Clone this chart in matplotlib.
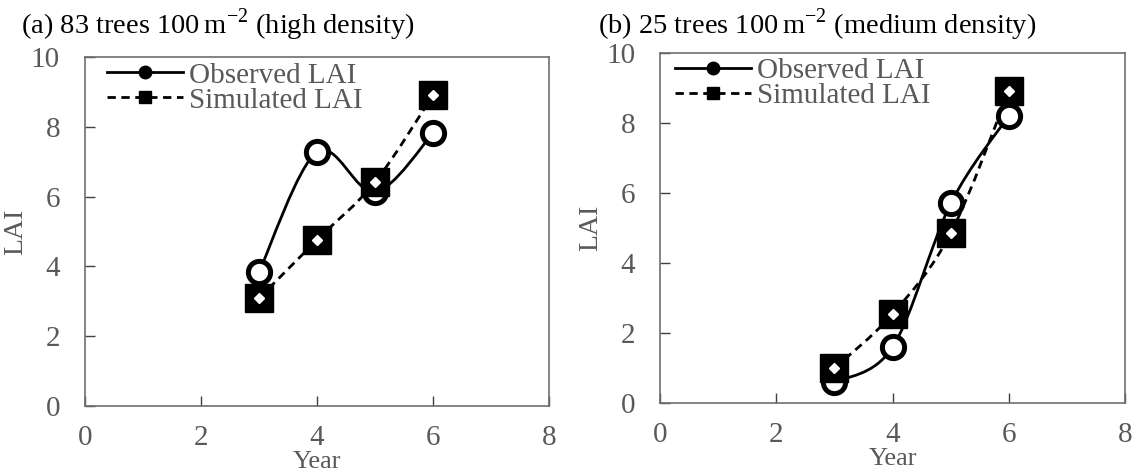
import matplotlib
matplotlib.use("Agg")
import matplotlib.pyplot as plt
from matplotlib.path import Path
from matplotlib.patches import PathPatch
from matplotlib.lines import Line2D
import numpy as np

plt.rcParams['font.family'] = ['Liberation Serif', 'DejaVu Serif']
plt.rcParams['mathtext.fontset'] = 'custom'
plt.rcParams['mathtext.rm'] = 'Liberation Serif'

years = [3, 4, 5, 6]
obs_high = [3.84, 7.28, 6.13, 7.82]
sim_high = [3.09, 4.76, 6.42, 8.91]
obs_med = [0.60, 1.60, 5.70, 8.20]
sim_med = [1.00, 2.55, 4.85, 8.90]

titles = ["(a) 83 trees 100$\\,$m$^{-2}$ (high density)",
          "(b) 25 trees 100$\\,$m$^{-2}$ (medium density)"]

grey = '#595959'


def smooth_path(x, y):
    # Catmull-Rom style cubic Bezier through the points (like a smoothed line)
    pts = np.column_stack([x, y]).astype(float)
    n = len(pts)
    verts = [pts[0]]
    codes = [Path.MOVETO]
    for i in range(n - 1):
        p0 = pts[max(i - 1, 0)]
        p1 = pts[i]
        p2 = pts[i + 1]
        p3 = pts[min(i + 2, n - 1)]
        c1 = p1 + (p2 - p0) / 6.0
        c2 = p2 - (p3 - p1) / 6.0
        verts += [c1, c2, p2]
        codes += [Path.CURVE4] * 3
    return Path(verts, codes)


def draw_panel(ax, obs, sim, legend_x):
    ax.add_patch(PathPatch(smooth_path(years, obs), fill=False, lw=2,
                           color='black', zorder=2))
    ax.add_patch(PathPatch(smooth_path(years, sim), fill=False, lw=2,
                           color='black', ls=(0, (3, 2)), zorder=2))
    ax.plot(years, obs, ls='none', marker='o', ms=16, mfc='white',
            mec='black', mew=3.6, zorder=3)
    ax.plot(years, sim, ls='none', marker='s', ms=20, mfc='black',
            mec='black', zorder=4)
    ax.plot(years, sim, ls='none', marker='D', ms=5, mfc='white',
            mec='white', zorder=5)

    ax.set_xlim(0, 8)
    ax.set_ylim(0, 10)
    ax.set_xticks([0, 2, 4, 6, 8])
    ax.set_yticks([0, 2, 4, 6, 8, 10])
    ax.tick_params(direction='in', length=7, width=1, color='#404040',
                   labelcolor=grey, labelsize=21)
    ax.tick_params(axis='x', pad=13.5)
    ax.tick_params(axis='y', pad=18)
    for s in ax.spines.values():
        s.set_color('#6e6e6e')
        s.set_linewidth(1.2)
    ax.set_xlabel("Year", fontsize=19, color=grey, labelpad=0)
    ax.set_ylabel("LAI", fontsize=20, color=grey, labelpad=2)

    handles = [
        Line2D([], [], color='black', lw=2, marker='o', ms=9, mfc='black'),
        Line2D([], [], color='black', lw=2, ls=(0, (3, 2)), marker='s', ms=9,
               mfc='black'),
    ]
    leg = ax.legend(handles, ["Observed LAI", "Simulated LAI"], loc='upper left',
                    frameon=False, fontsize=21, handlelength=2.6,
                    handletextpad=0.2, labelspacing=-0.05, borderaxespad=0.0,
                    borderpad=0.0, bbox_to_anchor=(legend_x, 0.985))
    for t in leg.get_texts():
        t.set_color(grey)


fig = plt.figure(figsize=(11.43, 4.73), dpi=100)
ax1 = fig.add_axes([0.0744, 0.1416, 0.4060, 0.7379])
ax2 = fig.add_axes([0.5775, 0.1473, 0.4068, 0.7413])

draw_panel(ax1, obs_high, sim_high, 0.048)
draw_panel(ax2, obs_med, sim_med, 0.033)

fig.text(0.018, 0.929, titles[0], fontsize=20.5, color='black', va='baseline')
fig.text(0.523, 0.929, titles[1], fontsize=20.5, color='black', va='baseline')

fig.savefig("out.png", dpi=100)
